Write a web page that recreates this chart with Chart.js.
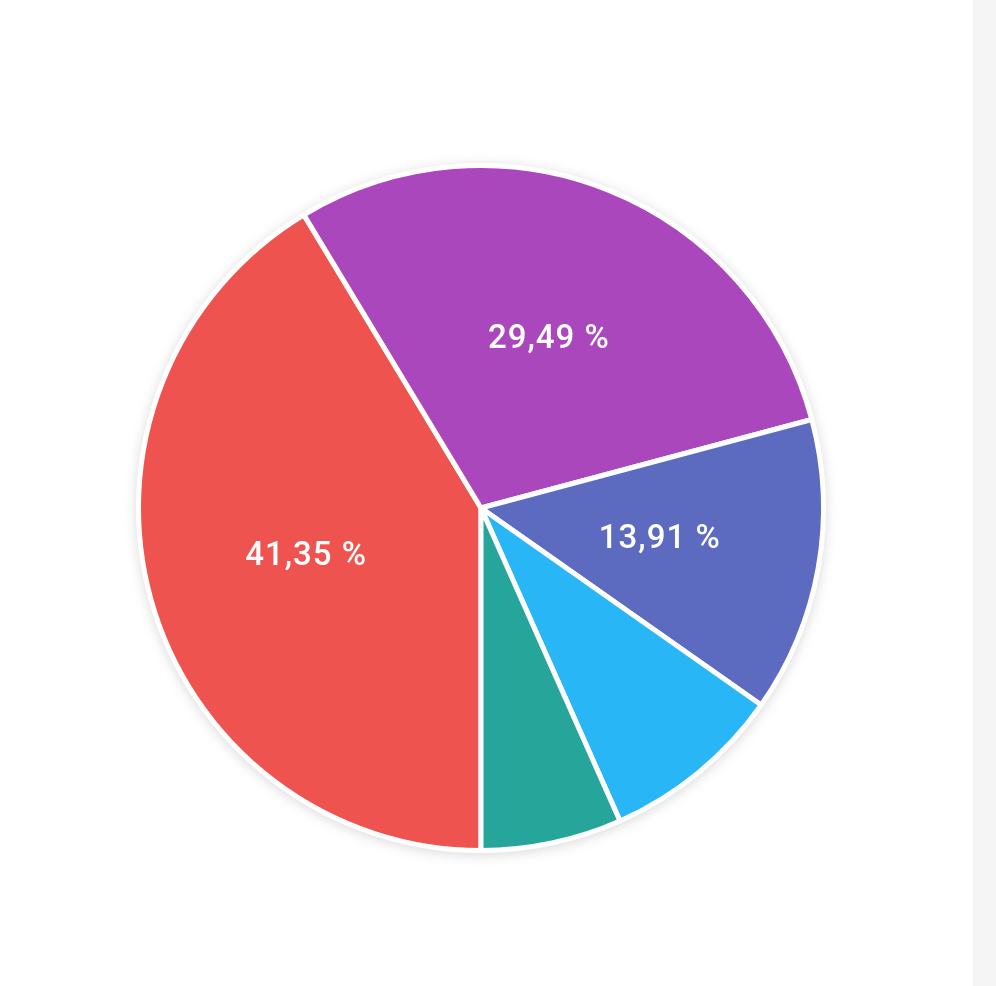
<!DOCTYPE html>
<html>
<head>
<meta charset="utf-8">
<script src="https://cdn.jsdelivr.net/npm/chart.js@4"></script>
<style>
  html, body { margin: 0; padding: 0; background: #ffffff; }
  #wrap { position: relative; width: 996px; height: 986px; }
  #strip { position: absolute; left: 973px; top: 0; width: 23px; height: 986px; background: #f5f5f5; }
  canvas { position: absolute; left: 0; top: 0; }
</style>
</head>
<body>
<div id="wrap">
  <canvas id="c" width="996" height="986"></canvas>
  <div id="strip"></div>
</div>
<script>
const categories = ['Rot', 'Lila', 'Indigo', 'Hellblau', 'Türkis'];
const values = [41.35, 29.49, 13.91, 8.60, 6.65];
const colors = ['#EF5350', '#AB47BC', '#5C6BC0', '#29B6F6', '#26A69A'];

const shadowPlugin = {
  id: 'pieShadow',
  beforeDatasetsDraw(chart) {
    const arc = chart.getDatasetMeta(0).data[0];
    if (!arc) return;
    const ctx = chart.ctx;
    ctx.save();
    ctx.beginPath();
    ctx.arc(arc.x, arc.y, arc.outerRadius + 1, 0, Math.PI * 2);
    ctx.fillStyle = '#ffffff';
    ctx.shadowColor = 'rgba(0,0,0,0.18)';
    ctx.shadowBlur = 14;
    ctx.shadowOffsetY = 2;
    ctx.fill();
    ctx.restore();
  }
};

const labelPlugin = {
  id: 'sliceLabels',
  afterDatasetsDraw(chart) {
    const ctx = chart.ctx;
    const meta = chart.getDatasetMeta(0);
    ctx.save();
    ctx.fillStyle = '#ffffff';
    ctx.font = '500 33px Roboto';
    if ('letterSpacing' in ctx) ctx.letterSpacing = '1px';
    ctx.textAlign = 'center';
    ctx.textBaseline = 'middle';
    meta.data.forEach((arc, i) => {
      const v = values[i];
      if (v < 10) return;
      const mid = (arc.startAngle + arc.endAngle) / 2;
      const r = arc.outerRadius * 0.53;
      const x = arc.x + Math.cos(mid) * r;
      const y = arc.y + Math.sin(mid) * r;
      ctx.fillText(v.toFixed(2).replace('.', ',') + ' %', x, y);
    });
    ctx.restore();
  }
};

new Chart(document.getElementById('c'), {
  type: 'pie',
  data: {
    labels: categories,
    datasets: [{
      data: values,
      backgroundColor: colors,
      borderColor: '#ffffff',
      borderWidth: 5,
      hoverOffset: 0
    }]
  },
  options: {
    responsive: false,
    animation: false,
    rotation: 180,
    layout: { padding: { left: 136, right: 170, top: 163, bottom: 133 } },
    plugins: {
      legend: { display: false },
      tooltip: { enabled: false }
    }
  },
  plugins: [shadowPlugin, labelPlugin]
});
</script>
</body>
</html>
